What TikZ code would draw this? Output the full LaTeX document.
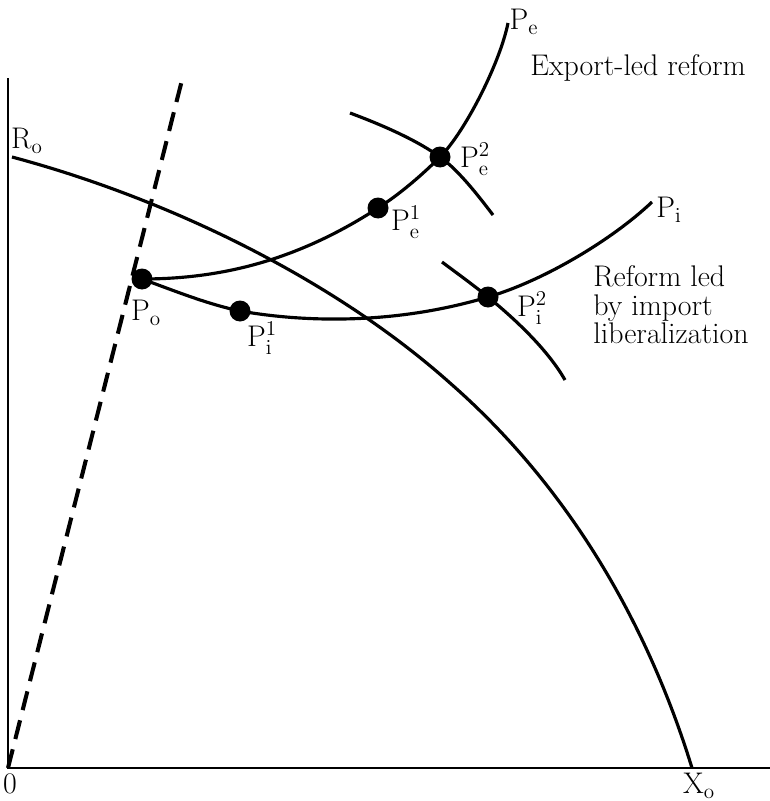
\documentclass[tikz,border=0pt]{standalone}
\usepackage{tikz}
\usetikzlibrary{positioning,backgrounds}

\begin{document}
\begin{tikzpicture}[
    x=0.02cm,y=-0.02cm,
    axis/.style={line width=1.1pt,black},
    curve/.style={line width=1.8pt,black},
    ray/.style={line width=2.3pt,black,dash pattern=on 11pt off 6pt},
    dot/.style={circle,fill=black,inner sep=0pt,minimum size=0.42cm},
    lab/.style={font=\fontsize{17}{19}\selectfont,inner sep=0pt},
    note/.style={font=\fontsize{17}{16.4}\selectfont,align=left,inner sep=0pt}]
\useasboundingbox (0,0) rectangle (770,801);
% ===== axes and the dashed ray from the origin =====
\coordinate (o)    at (8,768);
\coordinate (ytop) at (8,78);
\coordinate (xend) at (770,768);
\coordinate (rtop) at (182,80);
\draw[axis] (ytop) -- (o) -- (xend);
\draw[ray] (o) -- (rtop);
\node[lab] (lo) at (10,784) {0};
\node[lab,anchor=north] (lxo) at (699,773) {X$_\mathrm{o}$};
% ===== points =====
\node[dot] (po)  at (142,279) {};
\node[dot] (pi1) at (240,311) {};
\node[dot] (pe1) at (378,208) {};
\node[dot] (pe2) at (440,157) {};
\node[dot] (pi2) at (488,297) {};
\coordinate (pe) at (508,23);
\coordinate (pi) at (652,202);
\begin{scope}[on background layer]
% ===== frontier R_o X_o =====
\coordinate (ro) at (12,157);
\coordinate (rm) at (450,383);
\coordinate (xo) at (692,768);
\draw[curve] (ro) .. controls (162,197) and (330,276) .. (rm)
                  .. controls (570,488) and (648,625) .. (xo);
% ===== the two reform paths =====
\draw[curve] (po.center) .. controls (222,279) and (298,260) .. (pe1.center)
                         .. controls (400,194) and (422,175) .. (pe2.center)
                         .. controls (465,132) and (500,63) .. (pe);
\draw[curve] (po.center) .. controls (175,291) and (207,304) .. (pi1.center)
                         .. controls (320,325) and (408,321) .. (pi2.center)
                         .. controls (543,281) and (612,240) .. (pi);
% ===== short arcs through the second points =====
\draw[curve] (350,113) .. controls (385,126) and (418,141) .. (pe2.center)
                       .. controls (460,171) and (483,202) .. (493,215);
\draw[curve] (442,262) .. controls (458,274) and (472,284) .. (pi2.center)
                       .. controls (515,319) and (548,350) .. (565,380);
\end{scope}
% ===== labels =====
\node[lab] (lro)  at (27,141)  {R$_\mathrm{o}$};
\node[lab] (lpo)  at (146,313) {P$_\mathrm{o}$};
\node[lab] (lpi1) at (262,338) {P$_\mathrm{i}^{1}$};
\node[lab] (lpe1) at (406,222) {P$_\mathrm{e}^{1}$};
\node[lab] (lpe2) at (475,159) {P$_\mathrm{e}^{2}$};
\node[lab] (lpi2) at (532,308) {P$_\mathrm{i}^{2}$};
\node[lab] (lpe)  at (524,22)  {P$_\mathrm{e}$};
\node[lab] (lpi)  at (669,210) {P$_\mathrm{i}$};
% ===== path names =====
\node[lab] (nexp) at (638,68) {Export-led reform};
\node[note,anchor=north west] (nimp) at (593,265) {Reform led\\by import\\liberalization};
\end{tikzpicture}
\end{document}
